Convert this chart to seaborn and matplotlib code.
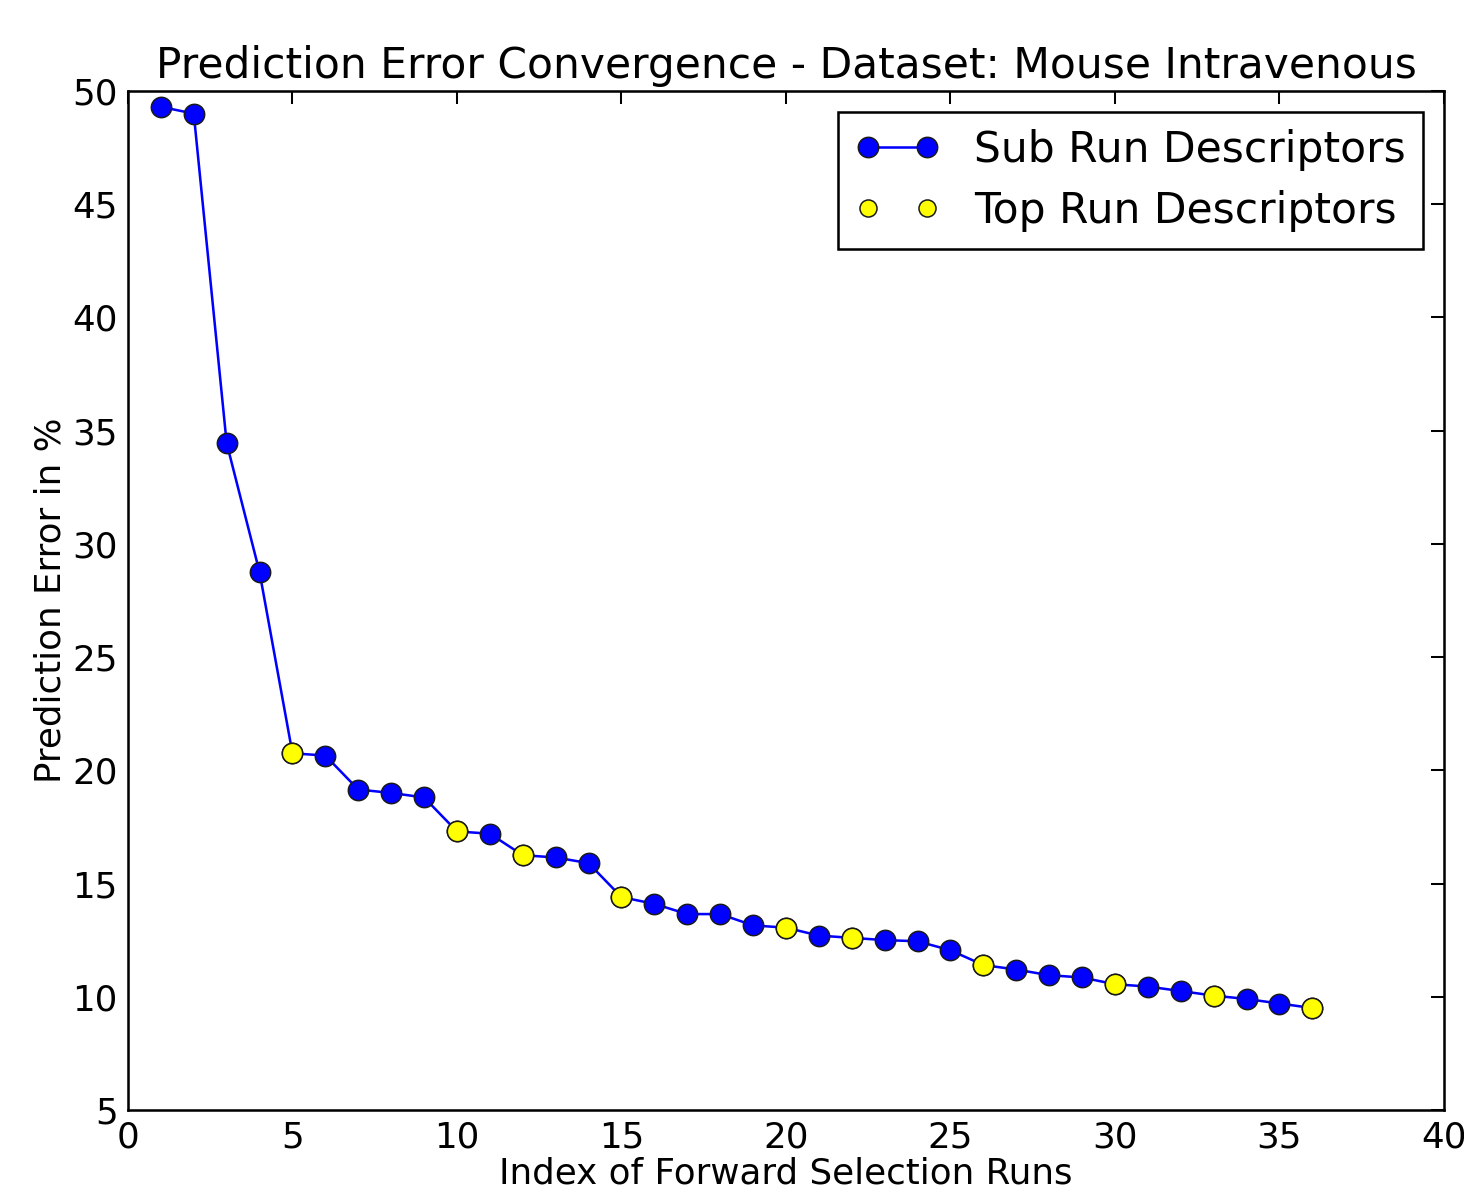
import matplotlib
matplotlib.use('Agg')
import matplotlib.pyplot as plt
import seaborn as sns
import pandas as pd

# forward selection runs and their prediction error (%)
run_index = list(range(1, 37))
pred_error = [49.3, 49.0, 34.45, 28.75, 20.75, 20.65, 19.15, 19.0, 18.8, 17.3,
              17.2, 16.25, 16.15, 15.9, 14.4, 14.1, 13.65, 13.65, 13.15, 13.05,
              12.7, 12.6, 12.5, 12.45, 12.05, 11.4, 11.2, 10.95, 10.85, 10.55,
              10.45, 10.25, 10.05, 9.9, 9.7, 9.5]
top_runs = [5, 10, 12, 15, 20, 22, 26, 30, 33, 36]

x_ticks = [0, 5, 10, 15, 20, 25, 30, 35, 40]
y_ticks = [5, 10, 15, 20, 25, 30, 35, 40, 45, 50]

df = pd.DataFrame({'run': run_index, 'error': pred_error})
top_df = df[df['run'].isin(top_runs)]

sns.set_style('white')
plt.rcParams['font.family'] = ['DejaVu Sans']
plt.rcParams['text.color'] = 'black'
plt.rcParams['axes.labelcolor'] = 'black'
plt.rcParams['xtick.color'] = 'black'
plt.rcParams['ytick.color'] = 'black'
plt.rcParams['xtick.direction'] = 'in'
plt.rcParams['ytick.direction'] = 'in'

fig = plt.figure(figsize=(8, 6.492), dpi=183)
ax = fig.add_axes([0.0874, 0.0657, 0.8989, 0.8577])

sns.lineplot(data=df, x='run', y='error', ax=ax, color='#0000ff', linewidth=1.0,
             marker='o', markersize=8, markerfacecolor='#0000ff',
             markeredgecolor='#1a1a1a', markeredgewidth=0.6,
             label='Sub Run Descriptors')
sns.scatterplot(data=top_df, x='run', y='error', ax=ax, color='#ffff00', s=64,
                edgecolor='#1a1a1a', linewidth=0.6, zorder=3,
                label='Top Run Descriptors')

ax.set_xlim(0, 40)
ax.set_ylim(5, 50)
ax.set_xticks(x_ticks)
ax.set_yticks(y_ticks)
ax.tick_params(axis='both', which='both', top=True, right=True, length=5,
               width=0.8, labelsize=14, pad=4)
for s in ax.spines.values():
    s.set_color('black')
    s.set_linewidth(1.0)

ax.set_title('Prediction Error Convergence - Dataset: Mouse Intravenous',
             fontsize=16.7, pad=5)
ax.set_xlabel('Index of Forward Selection Runs', fontsize=14, labelpad=1)
ax.set_ylabel('Prediction Error in %', fontsize=14, labelpad=2)

leg = ax.legend(loc='upper right', numpoints=2, scatterpoints=2,
                scatteryoffsets=[0.5], fontsize=16.7,
                fancybox=False, edgecolor='black', framealpha=1,
                handlelength=2.0, handletextpad=0.8, borderpad=0.4,
                labelspacing=0.45, borderaxespad=0.5)
leg.get_frame().set_linewidth(1.0)
leg.legend_handles[1].set_sizes([45])

fig.savefig('out.png', dpi=183)
